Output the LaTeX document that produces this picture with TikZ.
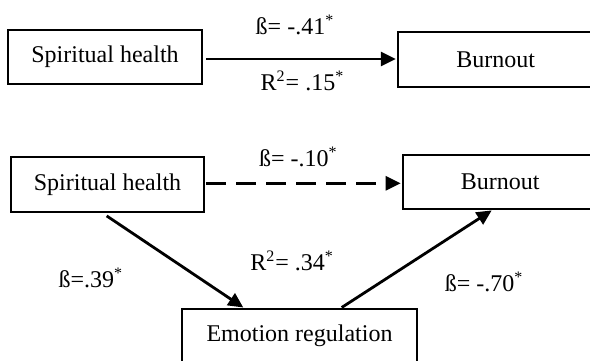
\documentclass[tikz,border=0pt]{standalone}
\usepackage{fontspec}
\setmainfont{Liberation Serif}
\usetikzlibrary{arrows.meta}
\tikzset{
  box/.style={draw, line width=1pt, rectangle, minimum height=27.2pt, inner sep=0pt, font=\fontsize{12}{14}\selectfont},
  lbl/.style={inner sep=0pt, anchor=base, font=\fontsize{12}{14}\selectfont},
  arr/.style={line width=1.4pt, -{Triangle[length=7.5pt,width=7pt]}},
}
\begin{document}
\begin{tikzpicture}[x=0.5pt,y=-0.5pt]
\clip (0,0) rectangle (590,360);
% top model
\node[box, minimum width=96.7pt] (sh1) at (105,57.2) {Spiritual health};
\node[box, minimum width=97.3pt, minimum height=27.5pt] (bo1) at (495.7,59.5) {Burnout};
\draw[arr, shorten >=0.8pt] ([xshift=1.65pt]sh1.east |- 0,59) -- (bo1.west |- 0,59);
\node[lbl] (b1) at (295,34.3) {ß= -.41\textsuperscript{*}};
\node[lbl] (r1) at (302.5,90) {R\textsuperscript{2}= .15\textsuperscript{*}};
% bottom model
\node[box, minimum width=96.5pt] (sh2) at (107.5,184.5) {Spiritual health};
\node[box, minimum width=97.5pt] (bo2) at (500.2,182.2) {Burnout};
\node[box, minimum width=117.2pt, minimum height=27.5pt] (er) at (299.5,336) {Emotion regulation};
\draw[arr, dash pattern=on 10pt off 5pt, shorten >=0.5pt] ([xshift=0.5pt]sh2.east |- 0,183.3) -- (bo2.west |- 0,183.3);
\draw[arr] ([yshift=-1.6pt,xshift=-0.4pt]sh2.south) -- ([xshift=-28.1pt]er.north);
\draw[arr] ([xshift=21.1pt]er.north) -- ([xshift=-4.25pt]bo2.south);
\node[lbl] (b2) at (298.3,166) {ß= -.10\textsuperscript{*}};
\node[lbl] (r2) at (292.2,270) {R\textsuperscript{2}= .34\textsuperscript{*}};
\node[lbl] (b3) at (90.8,287.7) {ß=.39\textsuperscript{*}};
\node[lbl] (b4) at (484.2,291.7) {ß= -.70\textsuperscript{*}};
\end{tikzpicture}
\end{document}
